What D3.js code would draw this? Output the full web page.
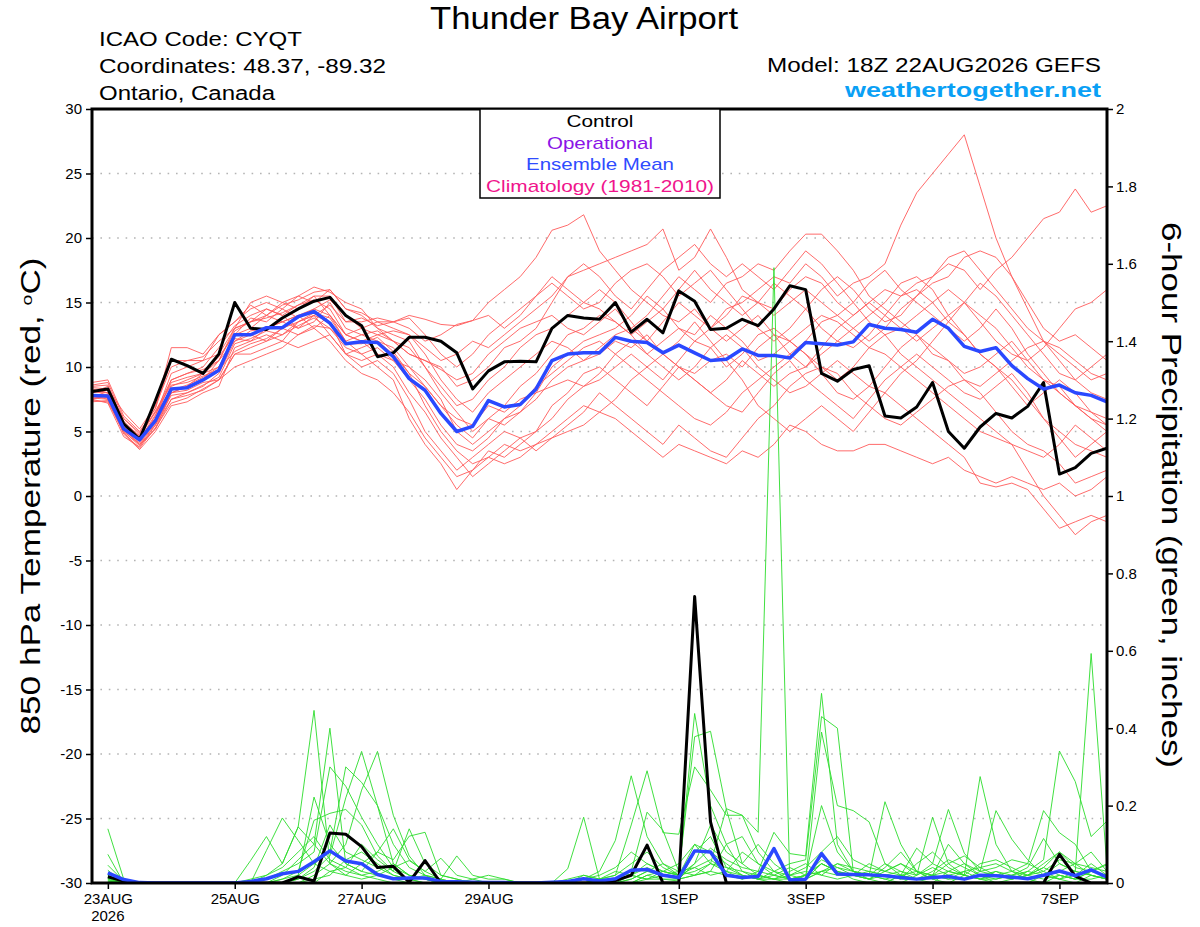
<!DOCTYPE html>
<html lang="en">
<head>
<meta charset="UTF-8">
<title>Thunder Bay Airport - GEFS</title>
<script src="https://d3js.org/d3.v7.min.js"></script>
<style>
  body { margin: 0; background: #fff; }
  svg { display: block; font-family: "Liberation Sans", Arial, Helvetica, sans-serif; }
</style>
</head>
<body>
<div id="chart"></div>
<script>
// ---- data ----
const runStart = "2026-08-22T18:00:00Z";
const stepHours = 6;
const tickDays = ["2026-08-23", "2026-08-25", "2026-08-27", "2026-08-29", "2026-09-01", "2026-09-03", "2026-09-05", "2026-09-07"];
const tickLabels = ["23AUG", "25AUG", "27AUG", "29AUG", "1SEP", "3SEP", "5SEP", "7SEP"];
const tempTicks = [30, 25, 20, 15, 10, 5, 0, -5, -10, -15, -20, -25, -30];
const gridTicks = [25, 20, 15, 10, 5, 0, -5, -10, -15, -20, -25];
const precipTicks = [0, 0.2, 0.4, 0.6, 0.8, 1, 1.2, 1.4, 1.6, 1.8, 2];
const legendItems = ["Control", "Operational", "Ensemble Mean", "Climatology (1981-2010)"];

// 850 hPa temperature, every 6 h from 22AUG 18Z
const controlTemp = [8.1, 8.3, 5.6, 4.4, 7.4, 10.6, 10.1, 9.5, 11.0, 15.0,
  13.0, 12.9, 13.8, 14.5, 15.1, 15.4, 14.0, 13.2, 10.8, 11.1,
  12.3, 12.3, 12.0, 11.1, 8.3, 9.7, 10.4, 10.45, 10.4, 13.0,
  14.0, 13.8, 13.7, 15.0, 12.7, 13.7, 12.65, 15.9, 15.1, 12.9,
  13.0, 13.7, 13.2, 14.5, 16.3, 16.0, 9.5, 8.9, 9.8, 10.1,
  6.2, 6.05, 6.9, 8.8, 5.0, 3.7, 5.35, 6.4, 6.05, 6.95,
  8.8, 1.7, 2.2, 3.3, 3.7];
const meanTemp = [7.8, 7.75, 5.2, 4.35, 5.85, 8.3, 8.4, 9.0, 9.75, 12.5,
  12.5, 13.05, 13.05, 13.9, 14.3, 13.4, 11.8, 11.95, 11.9, 10.8,
  9.1, 8.2, 6.4, 5.0, 5.4, 7.4, 6.9, 7.1, 8.3, 10.5,
  11.0, 11.1, 11.1, 12.3, 12.0, 11.9, 11.1, 11.7, 11.1, 10.5,
  10.6, 11.4, 10.9, 10.9, 10.7, 11.9, 11.8, 11.7, 11.95, 13.3,
  13.0, 12.9, 12.7, 13.7, 13.0, 11.6, 11.2, 11.5, 10.1, 9.1,
  8.3, 8.6, 8.0, 7.8, 7.3];
const memberTemps = [
  [8.0, 8.5, 5.8, 4.6, 6.5, 9.0, 9.5, 9.8, 10.5, 12.8, 13.5, 13.8, 14.2, 14.8, 15.2, 14.5, 12.5, 12.0,
   12.5, 12.0, 11.0, 10.5, 9.8, 9.0, 9.5, 11.0, 12.0, 13.0, 13.5, 14.0, 13.0, 12.5, 13.5, 14.5,
   13.0, 12.0, 13.5, 15.0, 14.0, 13.0, 14.5, 15.0, 16.0, 17.0, 16.5, 18.0, 17.0, 15.5, 16.5, 17.0,
   18.0, 21.0, 23.5, 25.0, 26.5, 28.0, 24.0, 20.0, 17.0, 14.5, 12.0, 10.5, 9.0, 8.0, 7.5],
  [7.6, 7.5, 5.0, 4.0, 5.5, 8.0, 8.5, 9.5, 10.5, 12.0, 12.8, 13.0, 13.5, 13.0, 14.0, 14.8, 13.5, 13.8,
   13.2, 13.5, 14.0, 13.7, 13.3, 13.2, 13.6, 15.0, 16.0, 17.0, 18.5, 20.6, 21.0, 21.8, 19.0, 17.5,
   16.0, 15.0, 14.0, 13.5, 14.5, 13.0, 12.0, 13.0, 14.0, 12.5, 11.0, 12.0, 13.5, 14.0, 15.0, 16.5,
   17.5, 16.0, 15.0, 14.0, 13.0, 12.0, 13.0, 14.5, 13.0, 11.0, 9.5, 8.0, 7.0, 6.5, 6.0],
  [8.2, 7.8, 5.2, 4.0, 5.2, 7.5, 7.8, 8.2, 9.0, 11.0, 11.5, 12.0, 12.5, 13.2, 13.8, 13.0, 11.5, 11.0,
   10.0, 9.0, 6.0, 4.0, 2.5, 0.5, 2.0, 3.5, 3.0, 4.0, 5.0, 6.0, 7.5, 8.5, 9.0, 10.0,
   11.0, 10.0, 9.0, 10.5, 12.0, 11.5, 10.0, 11.0, 12.5, 13.0, 12.0, 11.0, 10.0, 9.0, 10.0, 11.5,
   12.5, 11.0, 10.0, 9.0, 8.0, 7.0, 6.0, 5.0, 4.0, 2.0, 0.0, -1.5, -3.0, -2.0, -1.5],
  [8.8, 9.0, 6.2, 5.0, 6.8, 11.5, 11.5, 11.0, 12.5, 13.5, 14.5, 15.0, 14.5, 15.5, 15.0, 16.0, 14.5, 14.0,
   13.0, 12.0, 11.0, 10.5, 10.0, 8.5, 9.0, 10.0, 11.5, 12.0, 13.0, 15.0, 17.0, 17.5, 18.0, 18.5,
   19.0, 19.5, 20.7, 17.5, 18.5, 20.7, 18.5, 16.0, 15.0, 14.0, 15.0, 16.0, 15.0, 14.0, 13.0, 12.0,
   13.0, 14.5, 15.5, 17.0, 18.5, 19.0, 17.5, 16.0, 14.5, 13.0, 12.0, 11.5, 10.5, 9.5, 9.0],
  [7.5, 7.8, 5.5, 4.5, 6.0, 8.5, 9.0, 9.5, 10.0, 12.5, 13.0, 14.0, 13.5, 14.0, 14.5, 14.0, 12.0, 12.5,
   12.0, 11.5, 10.0, 8.5, 7.0, 6.0, 5.5, 7.0, 6.5, 7.5, 8.0, 10.0, 11.0, 12.0, 12.5, 13.0,
   14.0, 15.5, 14.5, 13.0, 12.0, 13.0, 14.0, 15.5, 15.0, 14.5, 16.0, 17.0, 16.5, 15.0, 14.0, 15.0,
   16.0, 15.5, 16.5, 17.0, 18.0, 17.5, 16.0, 17.5, 18.5, 20.0, 21.5, 22.0, 23.8, 22.0, 22.5],
  [7.8, 7.5, 4.8, 3.6, 5.0, 7.0, 7.3, 8.0, 8.5, 11.5, 12.0, 12.5, 12.0, 13.5, 14.0, 13.5, 11.0, 10.5,
   11.0, 10.0, 8.0, 6.5, 4.5, 3.0, 1.5, 2.5, 3.5, 4.5, 5.0, 7.0, 8.0, 9.5, 10.0, 9.0,
   8.0, 7.0, 8.5, 10.0, 9.0, 8.0, 7.0, 6.5, 8.0, 9.5, 10.5, 9.0, 8.0, 7.0, 6.0, 7.5,
   9.0, 10.0, 11.0, 10.0, 9.0, 8.0, 7.5, 8.5, 9.5, 8.0, 6.0, 4.5, 3.0, 4.0, 5.0],
  [8.0, 8.2, 5.5, 4.3, 6.2, 9.5, 10.0, 10.5, 11.0, 13.0, 13.5, 14.5, 14.0, 13.0, 13.5, 15.0, 13.0, 12.5,
   12.8, 12.0, 11.5, 10.0, 8.0, 6.5, 5.0, 6.0, 7.0, 8.5, 9.5, 11.0, 12.5, 13.0, 14.0, 13.5,
   12.5, 11.0, 10.0, 9.0, 10.0, 11.5, 12.5, 11.5, 10.0, 9.0, 8.0, 8.5, 9.5, 10.5, 9.5, 8.5,
   8.0, 7.0, 6.0, 5.0, 4.0, 3.0, 1.0, 0.7, 1.0, 0.5, -1.0, -2.5, -2.0, -1.5, -2.0],
  [7.5, 7.2, 4.6, 3.8, 5.5, 7.5, 8.0, 8.5, 9.5, 12.0, 12.5, 12.0, 13.0, 13.5, 14.0, 12.5, 11.0, 11.5,
   12.0, 11.0, 9.5, 8.5, 7.0, 5.5, 4.5, 6.0, 5.5, 6.5, 7.5, 9.0, 10.0, 10.5, 11.5, 12.5,
   13.0, 14.0, 15.5, 17.0, 16.0, 15.0, 16.5, 17.0, 18.0, 17.5, 19.0, 20.3, 20.3, 19.0, 17.5, 15.5,
   14.5, 13.5, 12.5, 11.0, 10.5, 9.5, 10.0, 11.0, 12.0, 10.5, 9.0, 8.5, 7.0, 6.0, 5.5],
  [8.3, 8.0, 6.0, 4.8, 6.5, 8.0, 8.5, 9.0, 10.5, 13.0, 13.5, 14.0, 15.0, 14.5, 15.5, 14.0, 12.5, 13.0,
   13.5, 13.0, 12.5, 11.0, 9.0, 7.5, 6.5, 8.0, 9.0, 10.0, 11.0, 12.0, 11.5, 10.5, 11.0, 12.0,
   11.5, 12.5, 11.0, 10.0, 9.0, 8.0, 9.0, 10.5, 9.5, 8.5, 9.5, 10.0, 11.0, 12.0, 13.0, 14.0,
   15.0, 16.5, 17.0, 16.0, 14.0, 12.5, 11.0, 10.0, 9.0, 7.5, 6.0, 5.0, 4.0, 3.5, 3.0],
  [7.4, 7.3, 5.0, 3.9, 5.2, 8.0, 8.2, 8.8, 9.0, 11.0, 11.0, 11.5, 12.0, 11.5, 12.0, 12.5, 11.0, 10.0,
   10.5, 9.5, 7.5, 5.0, 3.5, 2.0, 3.0, 4.0, 5.0, 4.5, 3.5, 4.5, 5.5, 6.5, 8.0, 7.0,
   6.0, 5.0, 4.0, 5.5, 4.5, 3.5, 3.0, 4.5, 6.0, 7.0, 8.5, 9.5, 10.0, 9.5, 8.0, 7.0,
   6.0, 5.5, 6.5, 7.5, 8.5, 9.0, 8.0, 6.5, 5.0, 4.0, 3.5, 2.5, 1.0, 1.5, 2.0],
  [8.5, 8.6, 5.7, 4.5, 6.0, 9.0, 9.5, 10.0, 11.5, 13.2, 14.0, 14.5, 14.0, 14.8, 15.5, 15.5, 13.5, 13.5,
   13.8, 13.5, 13.8, 12.5, 11.0, 10.0, 11.0, 12.5, 13.5, 14.5, 15.5, 16.5, 15.5, 14.5, 15.0, 16.5,
   17.5, 18.0, 17.0, 15.5, 16.5, 17.5, 16.0, 14.5, 13.0, 12.0, 13.0, 14.5, 16.0, 17.0, 16.0, 14.5,
   13.5, 14.0, 15.5, 16.5, 17.0, 18.5, 19.0, 18.5, 17.0, 15.0, 13.0, 12.0, 12.5, 11.5, 10.5],
  [7.9, 7.6, 5.3, 4.2, 5.8, 8.2, 8.6, 9.2, 10.0, 12.2, 12.0, 13.0, 13.5, 14.0, 13.0, 12.0, 10.5, 9.5,
   9.0, 8.0, 6.5, 4.5, 3.0, 1.5, 2.0, 3.0, 4.0, 3.5, 4.0, 5.0, 6.0, 7.0, 6.5, 7.5,
   9.0, 10.0, 11.0, 10.0, 9.5, 10.5, 11.0, 10.0, 11.5, 12.5, 12.0, 11.0, 9.5, 8.0, 7.5, 8.5,
   10.0, 11.5, 12.5, 11.5, 10.5, 9.0, 8.5, 9.5, 10.5, 11.5, 12.0, 11.0, 10.0, 9.0, 9.5],
  [8.1, 8.0, 5.4, 4.4, 6.3, 8.8, 9.2, 9.5, 10.8, 12.5, 13.8, 13.5, 14.5, 13.8, 14.5, 15.2, 14.0, 13.0,
   12.5, 12.8, 12.5, 11.5, 10.5, 11.0, 12.0, 11.5, 12.5, 13.5, 14.5, 15.5, 17.0, 18.0, 17.0, 15.5,
   14.5, 16.0, 17.5, 18.5, 19.5, 18.0, 17.0, 18.0, 17.0, 16.0, 17.5, 19.0, 18.0, 16.5, 15.0, 13.5,
   12.5, 13.0, 14.0, 15.0, 16.0, 15.0, 13.5, 12.0, 11.0, 10.5, 11.5, 13.0, 14.5, 15.0, 16.0],
  [7.7, 7.9, 5.1, 4.1, 5.6, 7.8, 8.0, 8.6, 9.2, 11.8, 12.2, 12.8, 12.5, 13.5, 14.2, 13.8, 12.0, 11.0,
   11.5, 10.5, 9.0, 7.5, 5.5, 4.0, 3.5, 4.5, 6.0, 6.5, 8.0, 8.5, 9.0, 8.5, 9.5, 11.0,
   12.0, 11.0, 12.0, 13.0, 12.5, 14.0, 13.0, 12.0, 10.5, 11.0, 12.0, 13.0, 14.0, 13.5, 12.5, 11.5,
   11.0, 10.0, 9.0, 8.0, 7.0, 6.0, 5.0, 4.5, 4.0, 3.5, 3.0, 4.0, 5.5, 4.5, 3.5],
  [8.4, 8.3, 6.5, 5.2, 7.0, 10.0, 10.5, 10.8, 12.0, 13.0, 15.0, 15.5, 15.0, 15.5, 16.2, 15.8, 15.0, 14.5,
   13.0, 12.5, 12.0, 10.0, 8.5, 7.0, 7.5, 9.0, 10.0, 11.5, 12.5, 13.0, 14.0, 15.0, 16.0, 15.0,
   13.5, 12.0, 11.0, 12.0, 13.5, 12.0, 10.5, 9.0, 7.0, 6.0, 5.0, 6.0, 7.0, 6.0, 5.0, 6.5,
   8.0, 9.5, 10.5, 12.0, 13.5, 12.5, 11.0, 10.0, 8.5, 7.0, 8.0, 9.0, 8.0, 6.5, 5.5],
  [7.3, 7.4, 4.9, 3.7, 5.3, 7.2, 7.6, 8.3, 9.0, 10.0, 10.5, 11.0, 11.5, 12.5, 13.0, 14.0, 12.5, 12.0,
   11.0, 10.5, 10.0, 9.0, 7.5, 5.0, 4.0, 5.0, 6.0, 7.0, 8.5, 9.5, 10.5, 11.5, 12.0, 11.0,
   10.0, 9.0, 8.0, 7.0, 6.0, 5.5, 6.5, 8.0, 9.0, 10.0, 11.0, 10.0, 11.5, 13.0, 14.0, 15.0,
   14.0, 13.0, 12.0, 13.0, 14.0, 15.0, 14.0, 13.0, 11.5, 10.0, 9.0, 8.0, 7.0, 6.0, 5.0],
  [7.6, 7.7, 5.6, 4.7, 6.6, 8.6, 8.8, 9.3, 9.8, 11.2, 11.8, 12.2, 13.0, 12.5, 13.2, 13.0, 11.8, 11.8,
   12.3, 11.2, 9.5, 7.0, 5.0, 3.5, 2.5, 3.0, 2.5, 3.0, 4.0, 4.5, 5.0, 5.5, 6.5, 6.0,
   5.0, 4.0, 3.0, 4.0, 3.5, 3.0, 2.5, 3.5, 3.0, 4.0, 5.5, 5.0, 4.0, 3.5, 3.5, 4.0,
   4.0, 3.5, 3.0, 2.5, 3.0, 2.0, 1.5, 1.0, 1.5, 1.0, 0.5, 1.0, 0.0, 0.5, 1.5],
  [8.6, 8.8, 6.0, 4.9, 6.8, 10.5, 10.5, 10.5, 12.5, 13.5, 14.8, 14.0, 14.8, 15.2, 15.8, 16.0, 14.5, 14.2,
   13.5, 13.5, 13.0, 12.0, 12.5, 13.3, 13.6, 14.0, 13.0, 14.0, 15.5, 17.0, 16.0, 15.0, 14.5, 13.5,
   12.5, 13.5, 14.5, 16.0, 17.5, 16.0, 15.0, 14.0, 15.0, 16.5, 15.5, 14.5, 13.0, 12.0, 11.5, 12.5,
   14.0, 15.5, 16.0, 15.0, 13.5, 15.0, 16.5, 15.5, 14.0, 12.5, 11.0, 9.5, 9.0, 10.0, 11.0]
];

// 6-hour precipitation (inches), every 6 h from 23AUG 00Z
const controlPrecip = [0.016, 0.005, 0, 0, 0, 0, 0, 0,
  0, 0, 0, 0, 0.016, 0.005, 0.129, 0.126,
  0.094, 0.04, 0.043, 0.002, 0.058, 0, 0, 0,
  0, 0, 0, 0, 0, 0, 0, 0,
  0.006, 0.02, 0.098, 0, 0, 0.74, 0.158, 0,
  0, 0, 0, 0, 0, 0, 0, 0,
  0, 0, 0, 0, 0, 0, 0, 0,
  0, 0, 0, 0, 0.074, 0.018, 0, 0];
const meanPrecip = [0.026, 0.009, 0.001, 0, 0, 0, 0, 0,
  0, 0.004, 0.011, 0.024, 0.03, 0.055, 0.083, 0.057,
  0.05, 0.022, 0.011, 0.013, 0.013, 0.004, 0.003, 0.002,
  0.001, 0.001, 0, 0, 0.002, 0.004, 0.011, 0.005,
  0.011, 0.033, 0.035, 0.02, 0.014, 0.083, 0.08, 0.02,
  0.014, 0.017, 0.089, 0.008, 0.01, 0.076, 0.023, 0.022,
  0.021, 0.019, 0.014, 0.01, 0.014, 0.017, 0.01, 0.02,
  0.019, 0.015, 0.011, 0.02, 0.031, 0.019, 0.034, 0.015];
const memberPrecips = [
  [0.14, 0.01, 0, 0, 0, 0, 0, 0,  0, 0, 0.02, 0.05, 0.145, 0.446, 0.05, 0.03,
   0.02, 0.01, 0, 0, 0, 0, 0, 0,  0, 0, 0, 0, 0, 0.037, 0.17, 0.01,
   0, 0.02, 0.05, 0.03, 0.02, 0.438, 0.2, 0.1,  0.03, 0.01, 0, 0, 0.02, 0.05, 0.03, 0.01,
   0, 0, 0.02, 0.01, 0, 0.03, 0.05, 0.02,  0, 0, 0, 0.02, 0.05, 0.03, 0.593, 0.04],
  [0.074, 0, 0, 0, 0, 0, 0, 0,  0, 0, 0, 0.02, 0.06, 0.1, 0.40, 0.05,
   0.03, 0.02, 0.01, 0, 0, 0, 0, 0,  0, 0, 0, 0, 0, 0, 0.01, 0.03,
   0.11, 0.277, 0.12, 0.05, 0.03, 0.378, 0.392, 0.19,  0.05, 0.02, 0.01, 0, 0.01, 0.03, 0.02, 0.02,
   0.01, 0.04, 0.08, 0.03, 0.01, 0, 0.02, 0.275,  0.1, 0.03, 0.01, 0, 0.02, 0.01, 0.03, 0.02],
  [0.046, 0.005, 0, 0, 0, 0, 0, 0,  0, 0, 0.01, 0.03, 0.05, 0.08, 0.30, 0.25,
   0.17, 0.1, 0.04, 0.02, 0.01, 0, 0, 0,  0, 0, 0, 0, 0, 0, 0, 0.01,
   0.02, 0.15, 0.29, 0.13, 0.126, 0.3, 0.24, 0.175,  0.175, 0.08, 0.03, 0.01, 0.02, 0.2, 0.08, 0.03,
   0.02, 0.01, 0, 0.02, 0.04, 0.02, 0.01, 0.03,  0.02, 0.01, 0.03, 0.06, 0.341, 0.262, 0.12, 0.16],
  [0.033, 0, 0, 0, 0, 0, 0, 0,  0, 0, 0, 0.01, 0.02, 0.05, 0.08, 0.30,
   0.26, 0.20, 0.10, 0.04, 0.02, 0.01, 0, 0,  0, 0, 0, 0, 0, 0, 0, 0,
   0.01, 0.03, 0.183, 0.136, 0.03, 0.02, 0.05, 0.192,  0.175, 0.131, 1.59, 0, 0.01, 0.05, 0.03, 0.02,
   0.01, 0.03, 0.05, 0.02, 0.17, 0.05, 0.02, 0.01,  0, 0.01, 0.02, 0.03, 0.01, 0, 0.02, 0.01],
  [0.02, 0, 0, 0, 0, 0, 0, 0,  0, 0, 0, 0, 0.01, 0.03, 0.07, 0.22,
   0.34, 0.20, 0.05, 0.02, 0.01, 0, 0, 0,  0, 0, 0, 0, 0, 0, 0, 0,
   0, 0.01, 0.03, 0.02, 0.01, 0.02, 0.03, 0.02,  0.01, 0.03, 0.131, 0.076, 0.07, 0.49, 0.1, 0.03,
   0.02, 0.21, 0.1, 0.03, 0.01, 0.02, 0.03, 0.01,  0.02, 0.03, 0.05, 0.187, 0.13, 0.1, 0.03, 0.047],
  [0.01, 0, 0, 0, 0, 0, 0, 0,  0, 0, 0, 0, 0, 0.02, 0.05, 0.10,
   0.24, 0.34, 0.175, 0.07, 0.02, 0.01, 0, 0,  0, 0, 0, 0, 0, 0, 0, 0,
   0, 0, 0.02, 0.03, 0.05, 0.1, 0.08, 0.05,  0.02, 0.01, 0.03, 0.05, 0.06, 0.43, 0.40, 0.03,
   0.01, 0, 0.02, 0.09, 0.05, 0.19, 0.077, 0.03,  0.187, 0.113, 0.06, 0.02, 0.01, 0.03, 0.02, 0.01],
  [0, 0, 0, 0, 0, 0, 0, 0,  0, 0, 0.084, 0.168, 0.11, 0.05, 0.03, 0.02,
   0.05, 0.08, 0.06, 0.121, 0.131, 0.02, 0.01, 0,  0, 0, 0, 0, 0, 0, 0, 0.01,
   0.03, 0.02, 0.01, 0.01, 0.01, 0.02, 0.03, 0.1,  0.12, 0.05, 0.02, 0.01, 0.01, 0.39, 0.2, 0.187,
   0.158, 0.05, 0.02, 0.01, 0.03, 0.06, 0.04, 0.02,  0.01, 0.02, 0.04, 0.115, 0.05, 0.03, 0.02, 0.01],
  [0.005, 0, 0, 0, 0, 0, 0, 0,  0, 0.058, 0.12, 0.05, 0.145, 0.1, 0.05, 0.02,
   0.01, 0.02, 0.04, 0.058, 0.03, 0.064, 0.02, 0.01,  0.02, 0.01, 0, 0, 0, 0, 0, 0,
   0, 0.01, 0.03, 0.05, 0.02, 0.05, 0.15, 0.08,  0.05, 0.1, 0.05, 0.02, 0.01, 0.03, 0.05, 0.03,
   0.02, 0.05, 0.03, 0.02, 0.05, 0.03, 0.02, 0.05,  0.06, 0.04, 0.02, 0.05, 0.08, 0.04, 0.03, 0.02],
  [0.02, 0, 0, 0, 0, 0, 0, 0,  0, 0, 0, 0, 0.02, 0.222, 0.10, 0.05,
   0.03, 0.08, 0.14, 0.06, 0.03, 0.01, 0.07, 0.02,  0.01, 0.01, 0, 0, 0, 0, 0.02, 0.01,
   0.02, 0.05, 0.08, 0.04, 0.02, 0.03, 0.05, 0.04,  0.03, 0.02, 0.01, 0.01, 0.02, 0.03, 0.04, 0.02,
   0.03, 0.02, 0.01, 0.05, 0.08, 0.04, 0.02, 0.01,  0.03, 0.02, 0.01, 0.02, 0.03, 0.05, 0.08, 0.03],
  [0.012, 0, 0, 0, 0, 0, 0, 0,  0, 0, 0, 0.01, 0.03, 0.162, 0.18, 0.19,
   0.15, 0.07, 0.03, 0.01, 0, 0, 0, 0,  0, 0, 0, 0, 0, 0.01, 0.02, 0.01,
   0.01, 0.02, 0.04, 0.02, 0.01, 0.05, 0.09, 0.06,  0.04, 0.03, 0.02, 0.01, 0.02, 0.06, 0.04, 0.03,
   0.02, 0.01, 0.02, 0.03, 0.02, 0.1, 0.05, 0.03,  0.04, 0.06, 0.05, 0.03, 0.06, 0.05, 0.04, 0.03],
  [0, 0, 0, 0, 0, 0, 0, 0,  0, 0.01, 0.02, 0.04, 0.08, 0.12, 0.06, 0.04,
   0.1, 0.06, 0.03, 0.14, 0.05, 0.02, 0.01, 0,  0, 0, 0, 0, 0, 0, 0, 0,
   0, 0, 0.01, 0.02, 0.03, 0.04, 0.02, 0.03,  0.08, 0.05, 0.03, 0.02, 0.04, 0.08, 0.12, 0.06,
   0.04, 0.03, 0.05, 0.03, 0.02, 0.01, 0.03, 0.04,  0.05, 0.03, 0.02, 0.04, 0.02, 0.01, 0.03, 0.05],
  [0.005, 0, 0, 0, 0, 0, 0, 0,  0, 0, 0, 0, 0.01, 0.04, 0.15, 0.08,
   0.06, 0.04, 0.02, 0.01, 0, 0, 0, 0,  0, 0, 0, 0, 0, 0, 0.01, 0.02,
   0.04, 0.08, 0.05, 0.03, 0.02, 0.1, 0.05, 0.03,  0.02, 0.01, 0.02, 0.04, 0.02, 0.05, 0.03, 0.02,
   0.05, 0.03, 0.02, 0.01, 0.02, 0.05, 0.07, 0.04,  0.02, 0.01, 0.02, 0.04, 0.08, 0.05, 0.02, 0.01],
  [0.015, 0, 0, 0, 0, 0, 0, 0,  0, 0, 0, 0, 0, 0.01, 0.02, 0.06,
   0.08, 0.05, 0.02, 0.01, 0.02, 0, 0, 0,  0, 0, 0, 0, 0, 0, 0, 0,
   0, 0, 0.02, 0.01, 0.005, 0.08, 0.12, 0.04,  0.02, 0.01, 0.01, 0.02, 0.03, 0.02, 0.05, 0.04,
   0.03, 0.02, 0.01, 0.01, 0.02, 0.03, 0.02, 0.01,  0.01, 0.02, 0.03, 0.02, 0.01, 0.02, 0.05, 0.02],
  [0.008, 0, 0, 0, 0, 0, 0, 0,  0, 0, 0, 0, 0, 0, 0.03, 0.04,
   0.02, 0.03, 0.05, 0.02, 0.01, 0, 0, 0.01,  0, 0, 0, 0, 0, 0, 0, 0,
   0.01, 0.02, 0.01, 0.03, 0.02, 0.04, 0.06, 0.03,  0.01, 0.02, 0.01, 0.03, 0.05, 0.02, 0.01, 0.02,
   0.01, 0.02, 0.03, 0.01, 0.02, 0.01, 0.01, 0.02,  0.03, 0.01, 0.02, 0.01, 0.02, 0.01, 0.01, 0.02]
];

// ---- layout ----
const width = 1200;
const height = 927;
const plot = { left: 92, right: 1107, top: 109, bottom: 883 };

const svg = d3.select("#chart").append("svg")
    .attr("width", width)
    .attr("height", height);

const t0 = new Date(runStart);
const timeAt = i => new Date(t0.getTime() + i * stepHours * 3600 * 1000);

const x = d3.scaleUtc()
    .domain([t0, timeAt(controlTemp.length - 1)])
    .range([plot.left, plot.right]);
const yT = d3.scaleLinear().domain([-30, 30]).range([plot.bottom, plot.top]);
const yP = d3.scaleLinear().domain([0, 2]).range([plot.bottom, plot.top]);

svg.append("defs").append("clipPath").attr("id", "plotClip")
  .append("rect")
    .attr("x", plot.left).attr("y", plot.top)
    .attr("width", plot.right - plot.left).attr("height", plot.bottom - plot.top);

// dotted grid on the temperature ticks
svg.append("g")
  .selectAll("line")
  .data(gridTicks)
  .enter().append("line")
    .attr("x1", plot.left).attr("x2", plot.right)
    .attr("y1", d => yT(d)).attr("y2", d => yT(d))
    .attr("stroke", "#b4b4b4")
    .attr("stroke-width", 1.6)
    .attr("stroke-dasharray", "1.6,6.8");

const lineT = d3.line().x((d, i) => x(timeAt(i))).y(d => yT(d));
const lineP = d3.line().x((d, i) => x(timeAt(i + 1))).y(d => yP(d));

const lines = svg.append("g").attr("clip-path", "url(#plotClip)");

lines.selectAll(".member-t")
  .data(memberTemps)
  .enter().append("path")
    .attr("class", "member-t")
    .attr("d", lineT)
    .attr("fill", "none")
    .attr("stroke", "#ff5a5a")
    .attr("stroke-width", 0.9);

lines.selectAll(".member-p")
  .data(memberPrecips)
  .enter().append("path")
    .attr("class", "member-p")
    .attr("d", lineP)
    .attr("fill", "none")
    .attr("stroke", "#2bdc2b")
    .attr("stroke-width", 0.9);

lines.append("path").datum(controlTemp)
    .attr("d", lineT).attr("fill", "none")
    .attr("stroke", "#000").attr("stroke-width", 3).attr("stroke-linejoin", "round");
lines.append("path").datum(controlPrecip)
    .attr("d", lineP).attr("fill", "none")
    .attr("stroke", "#000").attr("stroke-width", 3).attr("stroke-linejoin", "round");
lines.append("path").datum(meanTemp)
    .attr("d", lineT).attr("fill", "none")
    .attr("stroke", "#2a48ff").attr("stroke-width", 3.5).attr("stroke-linejoin", "round");
lines.append("path").datum(meanPrecip)
    .attr("d", lineP).attr("fill", "none")
    .attr("stroke", "#2a48ff").attr("stroke-width", 3.5).attr("stroke-linejoin", "round");

// axes
const axisLeft = svg.append("g")
    .attr("transform", `translate(${plot.left},0)`)
    .call(d3.axisLeft(yT).tickValues(tempTicks).tickSize(6).tickPadding(4).tickFormat(d => String(d)));
const axisRight = svg.append("g")
    .attr("transform", `translate(${plot.right},0)`)
    .call(d3.axisRight(yP).tickValues(precipTicks).tickSize(6).tickPadding(3).tickFormat(d => String(d)));
const axisBottom = svg.append("g")
    .attr("transform", `translate(0,${plot.bottom})`)
    .call(d3.axisBottom(x)
        .tickValues(tickDays.map(d => new Date(d + "T00:00:00Z")))
        .tickSize(6).tickPadding(4)
        .tickFormat((d, i) => tickLabels[i]));

[axisLeft, axisRight, axisBottom].forEach(g => {
  g.select(".domain").remove();
  g.selectAll(".tick line").attr("stroke", "#000").attr("stroke-width", 1.5);
  g.selectAll(".tick text")
    .attr("fill", "#000")
    .style("font-size", "15px")
    .style("font-family", "'Liberation Sans', Arial, sans-serif");
});

svg.append("text")
    .attr("x", x(new Date(tickDays[0] + "T00:00:00Z")))
    .attr("y", 921)
    .attr("text-anchor", "middle")
    .style("font-size", "15px")
    .text("2026");

// plot frame
svg.append("rect")
    .attr("x", plot.left).attr("y", plot.top)
    .attr("width", plot.right - plot.left).attr("height", plot.bottom - plot.top)
    .attr("fill", "none").attr("stroke", "#000").attr("stroke-width", 3);

// legend box
const legend = svg.append("g");
legend.append("rect")
    .attr("x", 480).attr("y", plot.top)
    .attr("width", 240).attr("height", 89)
    .attr("fill", "#fff").attr("stroke", "#000").attr("stroke-width", 1.5);
const legendColors = ["#000000", "#8a14e6", "#2f4cff", "#f0148c"];
const legendWidths = [67, 106, 148, 228];
legend.selectAll(".leg")
  .data(legendItems)
  .enter().append("text")
    .attr("class", "leg")
    .attr("x", 600)
    .attr("y", (d, i) => 127 + i * 21.7)
    .attr("text-anchor", "middle")
    .attr("fill", (d, i) => legendColors[i])
    .attr("textLength", (d, i) => legendWidths[i])
    .attr("lengthAdjust", "spacingAndGlyphs")
    .style("font-size", "17px")
    .text(d => d);

// titles
function label(txt, xPos, yPos, size, len, anchor) {
  return svg.append("text")
      .attr("x", xPos).attr("y", yPos)
      .attr("text-anchor", anchor)
      .attr("textLength", len)
      .attr("lengthAdjust", "spacingAndGlyphs")
      .style("font-size", size + "px")
      .text(txt);
}
label("Thunder Bay Airport", 584, 29, 31, 308, "middle");
label("ICAO Code: CYQT", 99, 46, 20, 203, "start");
label("Coordinates: 48.37, -89.32", 99, 73, 20, 287, "start");
label("Ontario, Canada", 99, 100, 20, 176, "start");
label("Model: 18Z 22AUG2026 GEFS", 1101, 72, 20, 334, "end");
label("weathertogether.net", 1101, 97, 21, 256, "end")
    .attr("fill", "#0aa0f5")
    .style("font-weight", "bold");

// axis titles
const leftTitle = svg.append("text")
    .attr("transform", "translate(40,496) rotate(-90)")
    .attr("text-anchor", "middle")
    .attr("textLength", 477)
    .attr("lengthAdjust", "spacingAndGlyphs")
    .style("font-size", "27px");
leftTitle.append("tspan").text("850 hPa Temperature (red, ");
leftTitle.append("tspan").attr("baseline-shift", "super").style("font-size", "15px").text("o");
leftTitle.append("tspan").text("C)");

svg.append("text")
    .attr("transform", "translate(1162,495) rotate(90)")
    .attr("text-anchor", "middle")
    .attr("textLength", 546)
    .attr("lengthAdjust", "spacingAndGlyphs")
    .style("font-size", "27px")
    .text("6-hour Precipitation (green, inches)");
</script>
</body>
</html>
